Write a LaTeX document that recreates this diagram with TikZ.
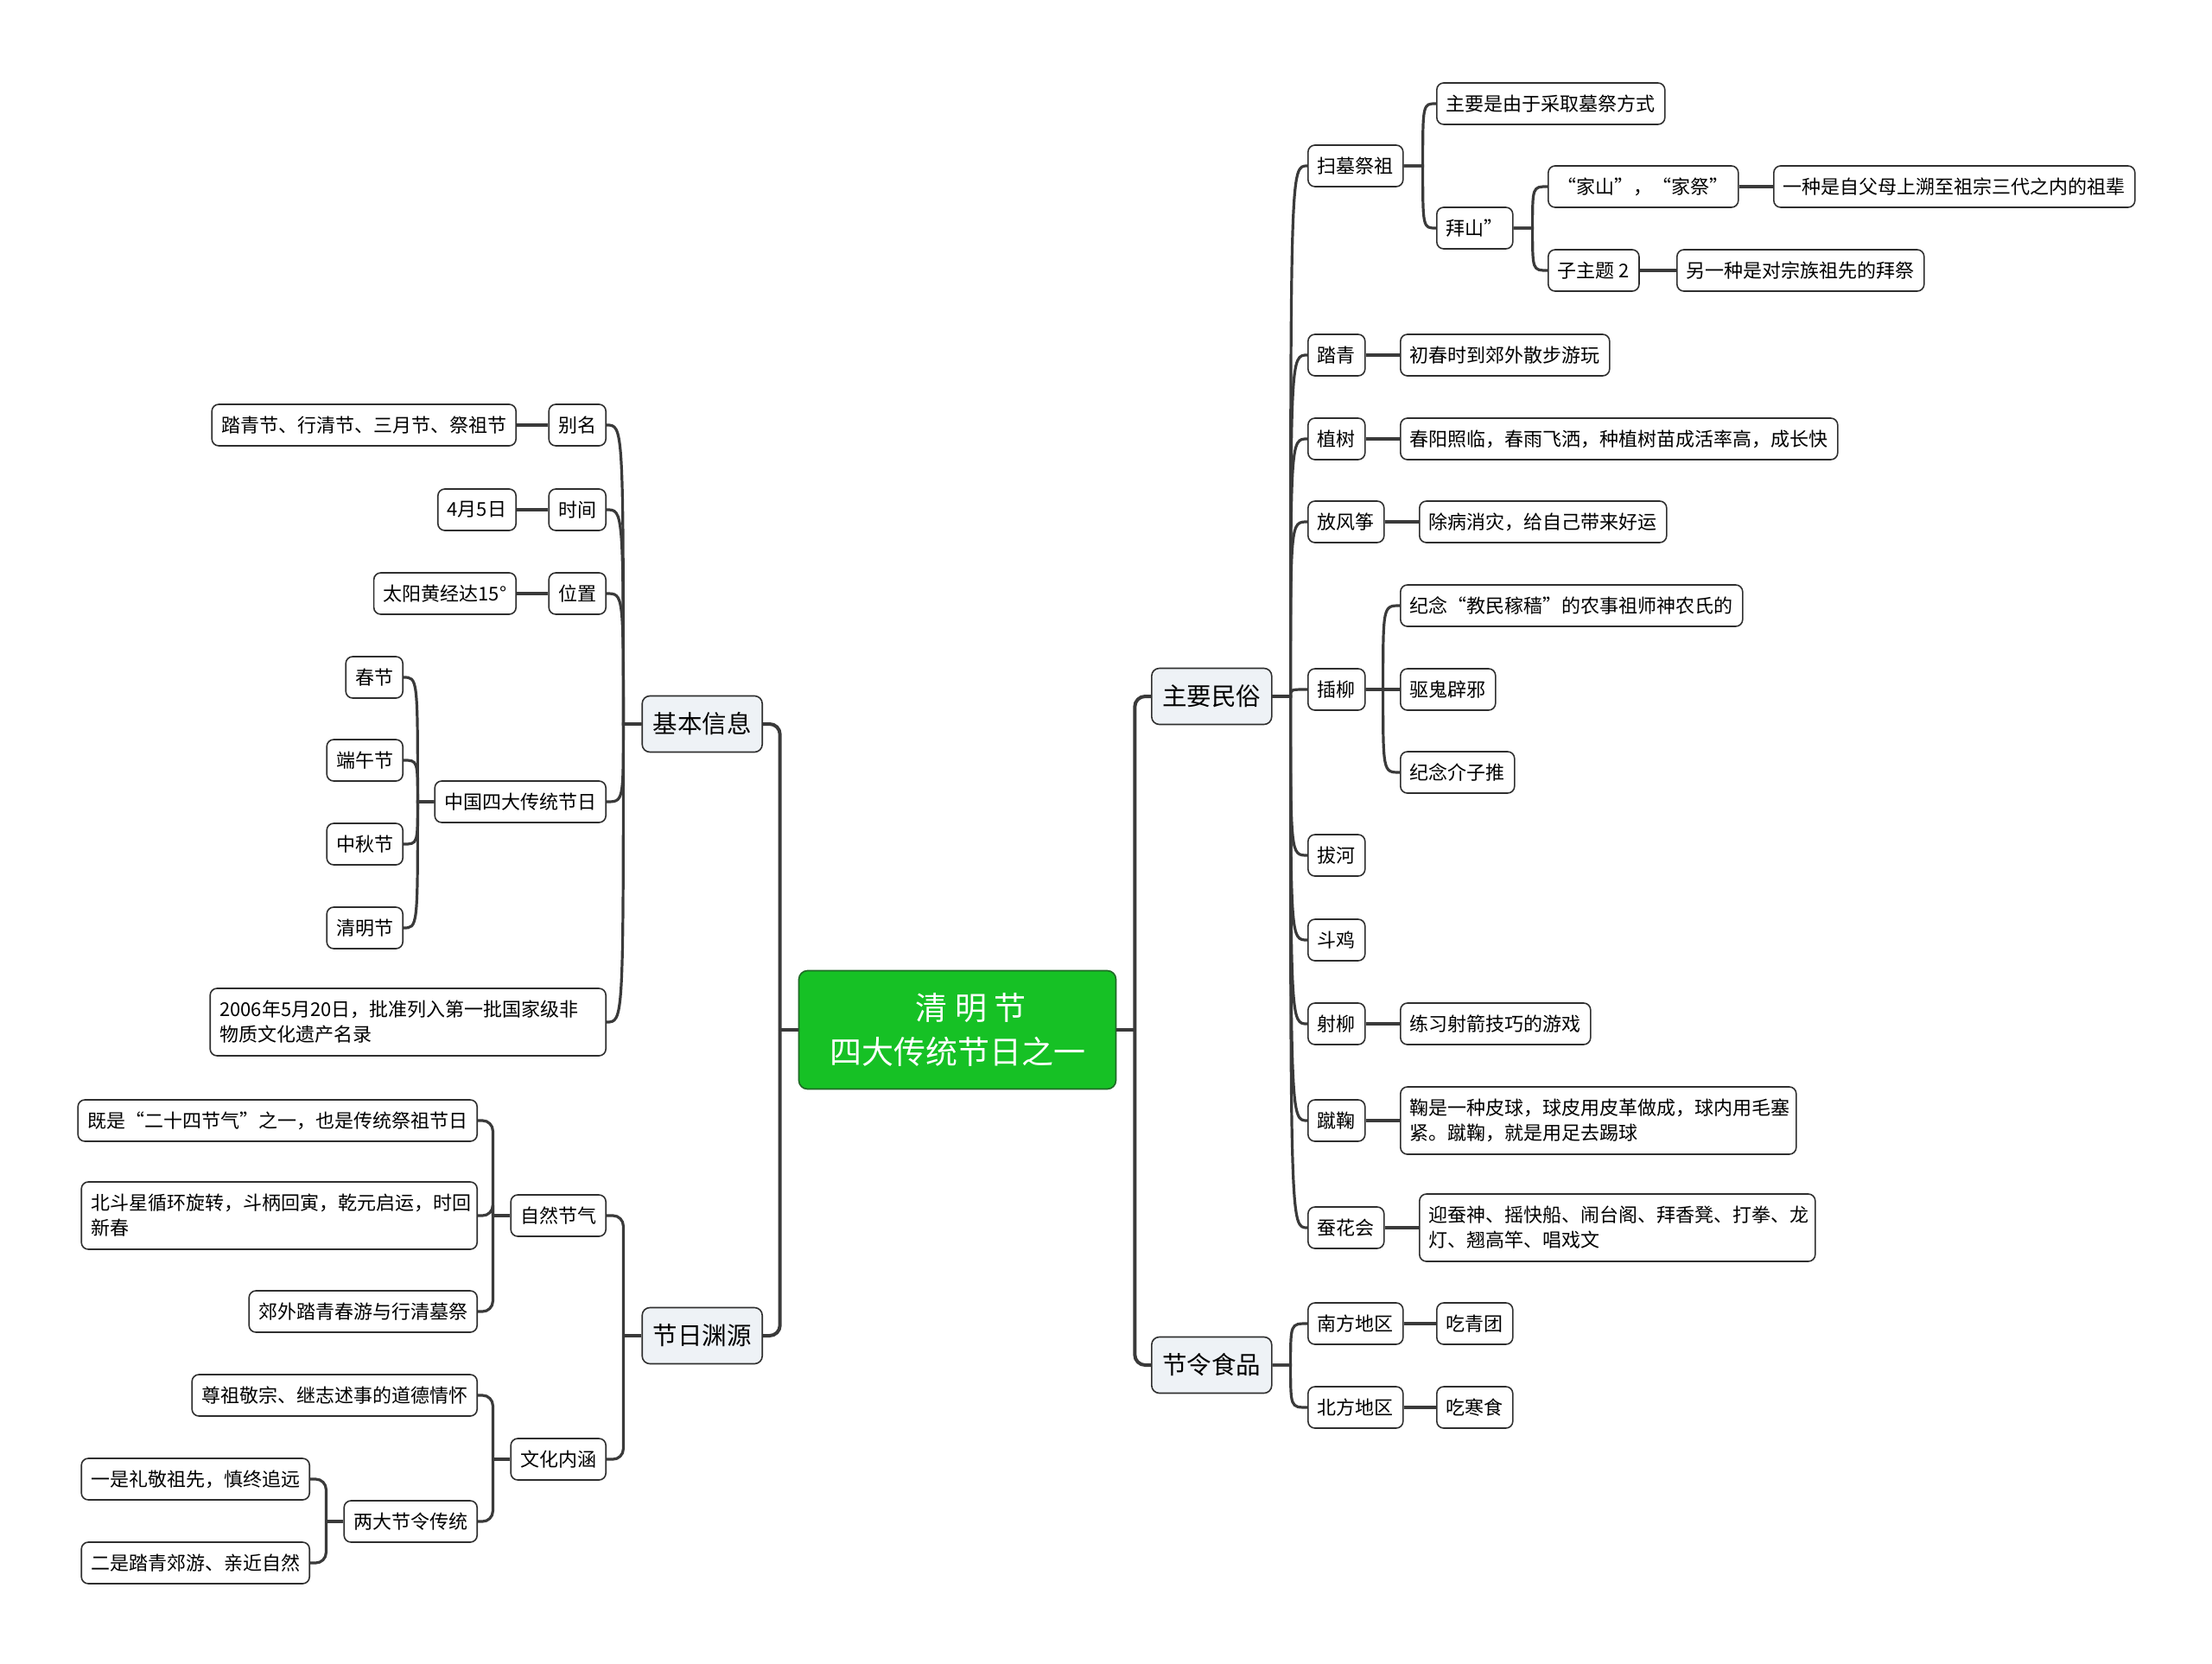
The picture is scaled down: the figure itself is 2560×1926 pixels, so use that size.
\documentclass[tikz,border=0pt]{standalone}
\usepackage{fontspec}
\setmainfont{Noto Sans CJK SC}
\definecolor{linec}{HTML}{3A3A3A}
\definecolor{bordc}{HTML}{2F2F2F}
\definecolor{topicfill}{HTML}{EEF2F6}
\definecolor{rootfill}{HTML}{16C125}
\definecolor{rootbord}{HTML}{1F6A26}
\newcommand{\leaffont}{\fontsize{22}{29}\selectfont}
\newcommand{\topicfont}{\fontsize{28.5}{36}\selectfont}
\newcommand{\rootfont}{\fontsize{37}{51}\selectfont}
\tikzset{
  leaf/.style={draw=bordc, line width=1.6pt, rounded corners=8pt, fill=white,
    inner xsep=11pt, inner ysep=6pt, minimum height=48pt, font=\leaffont},
  wide/.style={leaf, align=left, text width=436pt, minimum height=78pt},
  topic/.style={leaf, fill=topicfill, inner xsep=12.5pt, minimum height=65pt,
    rounded corners=9pt, font=\topicfont},
  rootbox/.style={draw=rootbord, line width=1.6pt, fill=rootfill, rounded corners=10pt,
    minimum width=367pt, minimum height=137pt, text=white, align=center, font=\rootfont},
  conn/.style={draw=linec, line width=3.2pt},
  trunk/.style={draw=linec, line width=4pt, rounded corners=12pt},
}
\begin{document}
\begin{tikzpicture}[x=1pt,y=-1pt]
\useasboundingbox (0,0) rectangle (2560,1926);

% centre
\node[rootbox] (qm) at (1108,1192) {\hspace*{31pt}清 明 节\\四大传统节日之一};

% left half
\node[topic,anchor=east] (jbxx) at (883,838) {基本信息};
\node[topic,anchor=east] (jryy) at (883,1546) {节日渊源};

\node[leaf,anchor=east] (bm) at (702,492) {别名};
\node[leaf,anchor=east] (sj) at (702,590) {时间};
\node[leaf,anchor=east] (wz) at (702,687) {位置};
\node[leaf,anchor=east] (zgsd) at (702,928) {中国四大传统节日};
\node[wide,anchor=east] (fy) at (702,1183) {2006年5月20日，批准列入第一批国家级非\\物质文化遗产名录};
\node[leaf,anchor=east] (bmx) at (598,492) {踏青节、行清节、三月节、祭祖节};
\node[leaf,anchor=east] (sjx) at (598,590) {4月5日};
\node[leaf,anchor=east] (wzx) at (598,687) {太阳黄经达15°};
\node[leaf,anchor=east] (cjie) at (467,784) {春节};
\node[leaf,anchor=east] (dw) at (467,880) {端午节};
\node[leaf,anchor=east] (zq) at (467,977) {中秋节};
\node[leaf,anchor=east] (qmj) at (467,1074) {清明节};

\node[leaf,anchor=east] (zrjq) at (702,1407) {自然节气};
\node[leaf,anchor=east] (whnh) at (702,1689) {文化内涵};
\node[leaf,anchor=east] (jses) at (553,1297) {既是“二十四节气”之一，也是传统祭祖节日};
\node[wide,anchor=east] (bdx) at (553,1407) {北斗星循环旋转，斗柄回寅，乾元启运，时回\\新春};
\node[leaf,anchor=east] (jwtq) at (553,1518) {郊外踏青春游与行清墓祭};
\node[leaf,anchor=east] (zzjz) at (553,1615) {尊祖敬宗、继志述事的道德情怀};
\node[leaf,anchor=east] (ldjl) at (553,1761) {两大节令传统};
\node[leaf,anchor=east] (yslj) at (359,1712) {一是礼敬祖先，慎终追远};
\node[leaf,anchor=east] (esqt) at (359,1809) {二是踏青郊游、亲近自然};

% right half
\node[topic,anchor=west] (zyms) at (1332,806) {主要民俗};
\node[topic,anchor=west] (jlsp) at (1332,1580) {节令食品};

\node[leaf,anchor=west] (smzz) at (1513,192) {扫墓祭祖};
\node[leaf,anchor=west] (tq) at (1513,411) {踏青};
\node[leaf,anchor=west] (zs) at (1513,508) {植树};
\node[leaf,anchor=west] (ffz) at (1513,604) {放风筝};
\node[leaf,anchor=west] (cl) at (1513,798) {插柳};
\node[leaf,anchor=west] (bh) at (1513,990) {拔河};
\node[leaf,anchor=west] (dj) at (1513,1088) {斗鸡};
\node[leaf,anchor=west] (sl) at (1513,1185) {射柳};
\node[leaf,anchor=west] (cj) at (1513,1297) {蹴鞠};
\node[leaf,anchor=west] (chh) at (1513,1421) {蚕花会};

\node[leaf,anchor=west] (zyfs) at (1662,120) {主要是由于采取墓祭方式};
\node[leaf,anchor=west] (bs) at (1662,264) {拜山”};
\node[leaf,anchor=west] (jsjj) at (1791,216) {“家山”，“家祭”};
\node[leaf,anchor=west] (zzt) at (1791,313) {子主题 2};
\node[leaf,anchor=west] (jsjjx) at (2052,216) {一种是自父母上溯至祖宗三代之内的祖辈};
\node[leaf,anchor=west] (zztx) at (1940,313) {另一种是对宗族祖先的拜祭};
\node[leaf,anchor=west] (tqx) at (1620,411) {初春时到郊外散步游玩};
\node[leaf,anchor=west] (zsx) at (1620,508) {春阳照临，春雨飞洒，种植树苗成活率高，成长快};
\node[leaf,anchor=west] (ffzx) at (1642,604) {除病消灾，给自己带来好运};
\node[leaf,anchor=west] (jnsn) at (1620,701) {纪念“教民稼穑”的农事祖师神农氏的};
\node[leaf,anchor=west] (qgbx) at (1620,798) {驱鬼辟邪};
\node[leaf,anchor=west] (jnjz) at (1620,894) {纪念介子推};
\node[leaf,anchor=west] (slx) at (1620,1185) {练习射箭技巧的游戏};
\node[wide,anchor=west] (cjx) at (1620,1297) {鞠是一种皮球，球皮用皮革做成，球内用毛塞\\紧。蹴鞠，就是用足去踢球};
\node[wide,anchor=west] (chhx) at (1642,1421) {迎蚕神、摇快船、闹台阁、拜香凳、打拳、龙\\灯、翘高竿、唱戏文};
\node[leaf,anchor=west] (nfdq) at (1513,1532) {南方地区};
\node[leaf,anchor=west] (bfdq) at (1513,1629) {北方地区};
\node[leaf,anchor=west] (nfdqx) at (1662,1532) {吃青团};
\node[leaf,anchor=west] (bfdqx) at (1662,1629) {吃寒食};

% trunks from the centre
\path (qm.west) ++(-21,0) coordinate (ls);
\path (qm.east) ++(21,0) coordinate (rs);
\draw[trunk] (qm.west) -- (ls);
\draw[trunk] (qm.east) -- (rs);
\draw[trunk] (ls) |- (jbxx.east);
\draw[trunk] (ls) |- (jryy.east);
\draw[trunk] (rs) |- (zyms.west);
\draw[trunk] (rs) |- (jlsp.west);

% curved branches, left
\path (jbxx.west) ++(-21,0) coordinate (jbs);
\foreach \c in {bm,sj,wz,zgsd,fy}
  \draw[conn] (jbxx.west) -- (jbs) .. controls (jbs |- \c.east) .. (\c.east);
\path (zgsd.west) ++(-19,0) coordinate (zgs);
\foreach \c in {cjie,dw,zq,qmj}
  \draw[conn] (zgsd.west) -- (zgs) .. controls (zgs |- \c.east) .. (\c.east);

% elbow branches, left
\path (jryy.west) ++(-21,0) coordinate (jrs);
\draw[conn] (jryy.west) -- (jrs);
\foreach \c in {zrjq,whnh}
  \draw[conn, rounded corners=12pt] (jrs) |- (\c.east);
\path (zrjq.west) ++(-20,0) coordinate (zrs);
\draw[conn] (zrjq.west) -- (zrs);
\foreach \c in {jses,bdx,jwtq}
  \draw[conn, rounded corners=12pt] (zrs) |- (\c.east);
\path (whnh.west) ++(-20,0) coordinate (whs);
\draw[conn] (whnh.west) -- (whs);
\foreach \c in {zzjz,ldjl}
  \draw[conn, rounded corners=12pt] (whs) |- (\c.east);
\path (ldjl.west) ++(-20,0) coordinate (lds);
\draw[conn] (ldjl.west) -- (lds);
\foreach \c in {yslj,esqt}
  \draw[conn, rounded corners=12pt] (lds) |- (\c.east);

% curved branches, right
\path (zyms.east) ++(21,0) coordinate (zys);
\foreach \c in {smzz,tq,zs,ffz,cl,bh,dj,sl,cj,chh}
  \draw[conn] (zyms.east) -- (zys) .. controls (zys |- \c.west) .. (\c.west);
\path (smzz.east) ++(22,0) coordinate (sms);
\foreach \c in {zyfs,bs}
  \draw[conn] (smzz.east) -- (sms) .. controls (sms |- \c.west) .. (\c.west);
\path (bs.east) ++(22,0) coordinate (bss);
\foreach \c in {jsjj,zzt}
  \draw[conn] (bs.east) -- (bss) .. controls (bss |- \c.west) .. (\c.west);
\path (cl.east) ++(20,0) coordinate (cls);
\foreach \c in {jnsn,qgbx,jnjz}
  \draw[conn] (cl.east) -- (cls) .. controls (cls |- \c.west) .. (\c.west);
\path (jlsp.east) ++(21,0) coordinate (jls);
\foreach \c in {nfdq,bfdq}
  \draw[conn] (jlsp.east) -- (jls) .. controls (jls |- \c.west) .. (\c.west);

% straight leaf links
\draw[conn] (bm.west) -- (bmx.east);
\draw[conn] (sj.west) -- (sjx.east);
\draw[conn] (wz.west) -- (wzx.east);
\draw[conn] (jsjj.east) -- (jsjjx.west);
\draw[conn] (zzt.east) -- (zztx.west);
\draw[conn] (tq.east) -- (tqx.west);
\draw[conn] (zs.east) -- (zsx.west);
\draw[conn] (ffz.east) -- (ffzx.west);
\draw[conn] (sl.east) -- (slx.west);
\draw[conn] (cj.east) -- (cjx.west);
\draw[conn] (chh.east) -- (chhx.west);
\draw[conn] (nfdq.east) -- (nfdqx.west);
\draw[conn] (bfdq.east) -- (bfdqx.west);
\end{tikzpicture}
\end{document}
